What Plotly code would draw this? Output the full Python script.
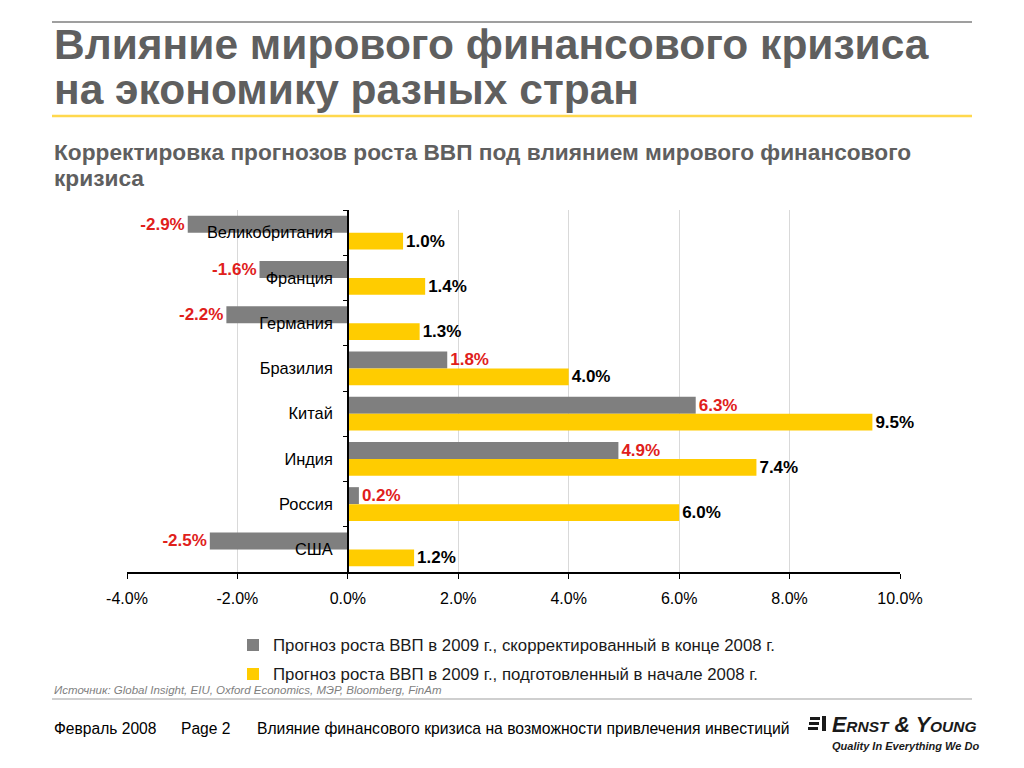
import plotly.graph_objects as go

categories = ["Великобритания", "Франция", "Германия", "Бразилия", "Китай", "Индия", "Россия", "США"]
revised_2008 = [-2.9, -1.6, -2.2, 1.8, 6.3, 4.9, 0.2, -2.5]
initial_2008 = [1.0, 1.4, 1.3, 4.0, 9.5, 7.4, 6.0, 1.2]
x_ticks = [-4, -2, 0, 2, 4, 6, 8, 10]
x_tick_labels = [f"{v:.1f}%" for v in x_ticks]
legend_revised = "Прогноз роста ВВП в 2009 г., скорректированный в конце 2008 г."
legend_initial = "Прогноз роста ВВП в 2009 г., подготовленный в начале 2008 г."

FONT = "Liberation Sans, Arial, sans-serif"
W, H = 1024, 768
L, R, T, B = 127, 900, 210, 572  # plot area in px


def px(x):
    return (x - L) / (R - L)


def py(y):
    return 1 - (y - T) / (B - T)


fig = go.Figure()
fig.add_trace(go.Bar(
    y=categories, x=revised_2008, orientation="h", name=legend_revised,
    marker=dict(color="#7F7F7F", line=dict(width=0)),
    text=[f"{v:.1f}%" for v in revised_2008], textposition="outside",
    textfont=dict(family=FONT, size=17, color="#E0201B", weight="bold"),
    cliponaxis=False, constraintext="none", legend="legend",
))
fig.add_trace(go.Bar(
    y=categories, x=initial_2008, orientation="h", name=legend_initial,
    marker=dict(color="#FFCC00", line=dict(width=0)),
    text=[f"{v:.1f}%" for v in initial_2008], textposition="outside",
    textfont=dict(family=FONT, size=17, color="#000000", weight="bold"),
    cliponaxis=False, constraintext="none", legend="legend2",
))

fig.update_layout(
    width=W, height=H,
    margin=dict(l=L, r=W - R, t=T, b=H - B, pad=0),
    paper_bgcolor="white", plot_bgcolor="white",
    barmode="group", bargap=0.25, bargroupgap=0,
    font=dict(family=FONT, size=16, color="#000000"),
    xaxis=dict(
        range=[-4, 10], tickvals=x_ticks, ticktext=x_tick_labels,
        showgrid=True, gridcolor="#D9D9D9", gridwidth=1, zeroline=False,
        showline=True, linecolor="#000000", linewidth=1.5,
        ticks="outside", ticklen=5, tickcolor="#000000", ticklabelstandoff=6,
        tickfont=dict(family=FONT, size=16, color="#000000"),
    ),
    yaxis=dict(
        type="category", autorange="reversed", anchor="free", position=4 / 14,
        showline=True, linecolor="#000000", linewidth=1.5,
        ticks="outside", tickson="boundaries", ticklen=4, tickcolor="#000000",
        showgrid=False, zeroline=False, ticklabelstandoff=11,
        tickfont=dict(family=FONT, size=16.4, color="#000000"),
    ),
    legend=dict(x=px(233), y=py(645), xanchor="left", yanchor="middle",
                font=dict(family=FONT, size=16.8, color="#1A1A1A"),
                bgcolor="rgba(0,0,0,0)", itemwidth=30),
    legend2=dict(x=px(233), y=py(674), xanchor="left", yanchor="middle",
                 font=dict(family=FONT, size=16.8, color="#1A1A1A"),
                 bgcolor="rgba(0,0,0,0)", itemwidth=30),
    showlegend=True,
)

annotations = [
    dict(text="<b>Влияние мирового финансового кризиса</b>", x=px(52), y=py(45),
         font=dict(size=42.5, color="#5F5F5F")),
    dict(text="<b>на экономику разных стран</b>", x=px(52), y=py(90),
         font=dict(size=42.5, color="#5F5F5F")),
    dict(text="<b>Корректировка прогнозов роста ВВП под влиянием мирового финансового</b>",
         x=px(52), y=py(152), font=dict(size=22.7, color="#5F5F5F")),
    dict(text="<b>кризиса</b>", x=px(52), y=py(178), font=dict(size=22.7, color="#5F5F5F")),
    dict(text="<i>Источник: Global Insight, EIU, Oxford Economics, МЭР, Bloomberg, FinAm</i>",
         x=px(52), y=py(690), font=dict(size=11.5, color="#7F7F7F")),
    dict(text="Февраль 2008", x=px(52), y=py(728), font=dict(size=15.6, color="#000000")),
    dict(text="Page 2", x=px(179), y=py(728), font=dict(size=15.6, color="#000000")),
    dict(text="Влияние финансового кризиса на возможности привлечения инвестиций",
         x=px(255), y=py(728), font=dict(size=15.7, color="#000000")),
    dict(text="<b><i>E<span style='font-size:15.5px'>RNST</span> &amp; Y<span style='font-size:15.5px'>OUNG</span></i></b>",
         x=px(830), y=py(725), font=dict(size=21.5, color="#1A1A1A")),
    dict(text="<b><i>Quality In Everything We Do</i></b>",
         x=px(830), y=py(746), font=dict(size=11, color="#1A1A1A")),
]
for a in annotations:
    a.update(xref="paper", yref="paper", xanchor="left", yanchor="middle",
             showarrow=False, align="left")
    a["font"]["family"] = FONT
fig.update_layout(annotations=annotations)

shapes = [
    dict(type="line", x0=px(52), x1=px(972), y0=py(22), y1=py(22),
         line=dict(color="#7F7F7F", width=1.5)),
    dict(type="line", x0=px(52), x1=px(972), y0=py(116), y1=py(116),
         line=dict(color="#FFD84D", width=2.5)),
    dict(type="line", x0=px(52), x1=px(972), y0=py(699), y1=py(699),
         line=dict(color="#9F9F9F", width=1)),
]
# logo glyph (three stripes + bar)
for i, yy in enumerate([717, 722, 727]):
    shapes.append(dict(type="rect", x0=px(810 - i), x1=px(820 - i), y0=py(yy), y1=py(yy + 3),
                       fillcolor="#1A1A1A", line=dict(width=0)))
shapes.append(dict(type="rect", x0=px(822), x1=px(826), y0=py(716), y1=py(731),
                   fillcolor="#1A1A1A", line=dict(width=0)))
for s in shapes:
    s.update(xref="paper", yref="paper", layer="above")
fig.update_layout(shapes=shapes)

fig.write_html("out.html", config={"displayModeBar": False},
               post_script="document.body.style.margin='0';")
